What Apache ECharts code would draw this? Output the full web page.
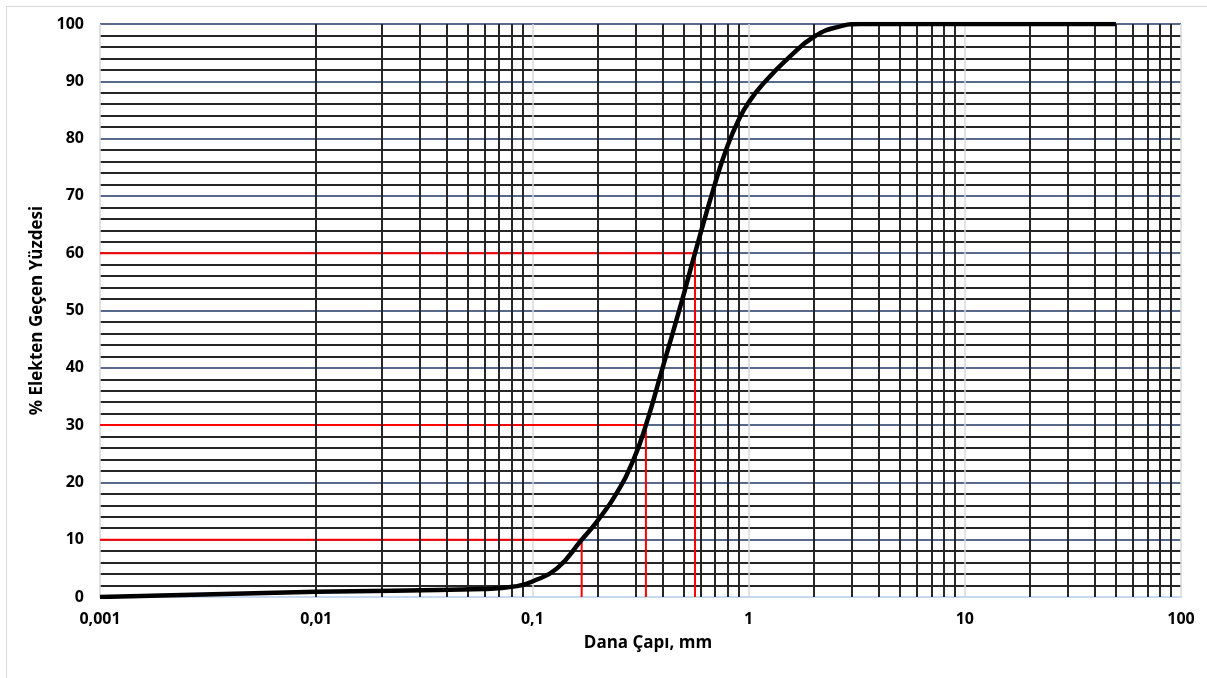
<!DOCTYPE html>
<html>
<head>
<meta charset="utf-8">
<title>Granülometri eğrisi</title>
<script src="https://cdn.jsdelivr.net/npm/echarts@6/dist/echarts.min.js"></script>
<style>
  html, body { margin: 0; padding: 0; background: #fff; overflow: hidden; }
  #frame {
    position: absolute; left: 6px; top: 6px;
    width: 1400px; height: 900px;
    border: 1px solid #d9d9d9;
  }
  #chart { position: absolute; left: 0; top: 0; width: 1207px; height: 678px; }
</style>
</head>
<body>
<div id="frame"></div>
<div id="chart"></div>
<script>
// dane çapı (mm) ve elekten geçen yüzde
const curveDiameter = [0.001, 0.01, 0.06, 0.085, 0.1, 0.13, 0.169, 0.2, 0.245, 0.293, 0.335, 0.4, 0.49, 0.565, 0.7, 0.8, 0.9, 1.0, 1.17, 1.55, 2.03, 2.6, 3.3, 50]
const curvePercent = [0, 0.9, 1.4, 1.9, 2.7, 5.0, 10, 13.3, 18.1, 23.9, 30, 40, 51.5, 60, 72.2, 78.8, 83.3, 86.3, 89.6, 94.3, 97.9, 99.5, 100, 100]

// D10, D30, D60
const refPercent = [10, 30, 60]
const refDiameter = [0.169, 0.335, 0.565]

const decades = [0.001, 0.01, 0.1, 1, 10]
const minorSteps = [2, 3, 4, 5, 6, 7, 8, 9]

const minorX = []
decades.forEach(function(d) {
  minorSteps.forEach(function(s) {
    minorX.push(Number((d * s).toPrecision(6)))
  })
})

const chart = echarts.init(document.getElementById('chart'))

const font = '"Open Sans", "Noto Sans", sans-serif'

const series = [
  {
    type: 'line',
    data: [],
    silent: true,
    z: 1,
    markLine: {
      silent: true,
      animation: false,
      symbol: ['none', 'none'],
      label: { show: false },
      lineStyle: { type: 'solid', color: '#262626', width: 2 },
      emphasis: { disabled: true },
      data: minorX.map(function(v) { return { xAxis: v } })
    }
  }
]

refPercent.forEach(function(p, i) {
  series.push({
    type: 'line',
    data: [[0.001, p], [refDiameter[i], p], [refDiameter[i], 0]],
    symbol: 'none',
    silent: true,
    z: 3,
    lineStyle: { color: '#ff0000', width: 2 }
  })
})

series.push({
  type: 'line',
  data: curveDiameter.map(function(d, i) { return [d, curvePercent[i]] }),
  symbol: 'none',
  smooth: 0.5,
  z: 5,
  lineStyle: { color: '#000', width: 4.5 }
})

const option = {
  backgroundColor: 'transparent',
  animation: false,
  grid: { left: 100, right: 26, top: 24, bottom: 81 },
  xAxis: {
    type: 'log',
    logBase: 10,
    min: 0.001,
    max: 100,
    name: 'Dana Çapı, mm',
    nameLocation: 'middle',
    nameGap: 38,
    nameTextStyle: { fontFamily: font, fontWeight: 'bold', fontSize: 17, color: '#000', padding: [0, 0, 0, 15] },
    axisLine: { show: true, lineStyle: { color: '#c5d9f1', width: 2 } },
    axisTick: { show: false },
    axisLabel: {
      margin: 14,
      fontFamily: font, fontWeight: 'bold', fontSize: 16, color: '#000',
      formatter: function(v) { return String(Number(v.toPrecision(6))).replace('.', ',') }
    },
    splitLine: { show: true, lineStyle: { color: '#d9d9d9', width: 1.5 } }
  },
  yAxis: {
    type: 'value',
    min: 0,
    max: 100,
    interval: 10,
    name: '% Elekten Geçen Yüzdesi',
    nameLocation: 'middle',
    nameGap: 50,
    nameTextStyle: { fontFamily: font, fontWeight: 'bold', fontSize: 17, color: '#000' },
    axisLine: { show: false },
    axisTick: { show: false },
    axisLabel: { margin: 16, fontFamily: font, fontWeight: 'bold', fontSize: 16, color: '#000' },
    splitLine: { show: true, lineStyle: { color: '#203864', width: 1.5 } },
    minorTick: { show: false, splitNumber: 5 },
    minorSplitLine: { show: true, lineStyle: { color: '#262626', width: 2 } }
  },
  series: series
}

chart.setOption(option)
</script>
</body>
</html>
